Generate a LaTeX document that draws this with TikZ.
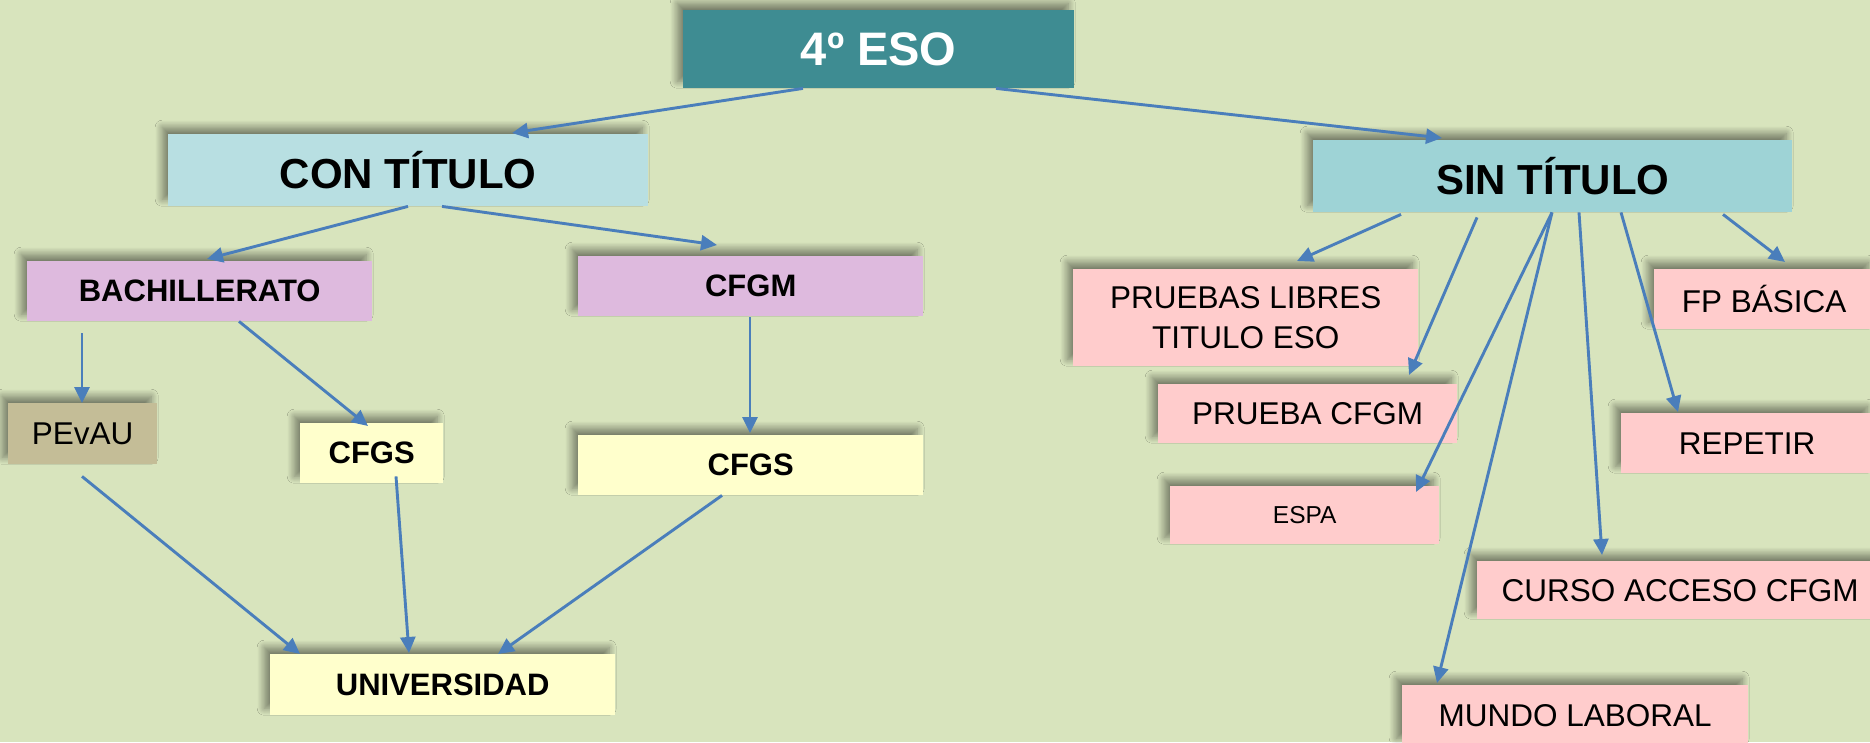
\documentclass[tikz,border=0pt]{standalone}
\usepackage{fontspec}
\setmainfont{Liberation Sans}
\usetikzlibrary{arrows.meta,calc,shadows.blur}
\definecolor{bgc}{RGB}{216,228,189}
\definecolor{tealc}{RGB}{62,140,146}
\definecolor{conc}{RGB}{184,223,226}
\definecolor{sinc}{RGB}{158,211,214}
\definecolor{lilac}{RGB}{222,186,222}
\definecolor{yel}{RGB}{255,255,204}
\definecolor{pinkc}{RGB}{255,204,204}
\definecolor{khaki}{RGB}{196,189,151}
\definecolor{arrc}{RGB}{74,126,187}
\tikzset{
  boxnode/.style={rectangle, inner sep=0pt, anchor=north west, align=center,
    blur shadow={shadow xshift=-6pt, shadow yshift=7pt, shadow blur radius=7pt, shadow opacity=45, shadow blur steps=12}},
  bigb/.style={font=\bfseries\fontsize{42}{50}\selectfont},
  midb/.style={font=\bfseries\fontsize{31}{40}\selectfont},
  regt/.style={font=\fontsize{31.5}{40}\selectfont},
  arr/.style={draw=arrc, line width=2.9pt, -{Triangle[length=16pt,width=15pt]}}
}
\begin{document}
\begin{tikzpicture}[x=1pt,y=-1pt]
\fill[bgc] (0,0) rectangle (1870,742);
\useasboundingbox (0,0) rectangle (1870,742);
% nodes
\node[boxnode, fill=tealc, text=white, minimum width=391, minimum height=78,
  font=\bfseries\fontsize{47}{56}\selectfont] (eso) at (683,10) {4º ESO};
\node[boxnode, fill=conc, bigb, minimum width=480, minimum height=72] (con) at (168,134) {CON TÍTULO};
\node[boxnode, fill=sinc, bigb, minimum width=479, minimum height=72] (sin) at (1313,140) {SIN TÍTULO};
\node[boxnode, fill=lilac, midb, minimum width=345, minimum height=60] (bach) at (27,261) {BACHILLERATO};
\node[boxnode, fill=lilac, midb, minimum width=345, minimum height=60] (cfgm) at (578,256) {CFGM};
\node[boxnode, fill=khaki, regt, minimum width=149, minimum height=61] (pev) at (8,403) {PEvAU};
\node[boxnode, fill=yel, midb, minimum width=143, minimum height=60] (cfgsA) at (300,423) {CFGS};
\node[boxnode, fill=yel, midb, minimum width=345, minimum height=60] (cfgsB) at (578,435) {CFGS};
\node[boxnode, fill=yel, midb, minimum width=345, minimum height=61] (univ) at (270,654) {UNIVERSIDAD};
\node[boxnode, fill=pinkc, regt, minimum width=345, minimum height=97] (plib) at (1073,269) {PRUEBAS LIBRES\\TITULO ESO};
\node[boxnode, fill=pinkc, regt, minimum width=299, minimum height=59] (pcfgm) at (1158,384) {PRUEBA CFGM};
\node[boxnode, fill=pinkc, regt, minimum width=220, minimum height=60] (fpb) at (1654,269) {FP BÁSICA};
\node[boxnode, fill=pinkc, regt, minimum width=252, minimum height=60] (rep) at (1621,413) {REPETIR};
\node[boxnode, fill=pinkc, font=\fontsize{24.5}{30}\selectfont, minimum width=269, minimum height=58] (espa) at (1170,486) {ESPA};
\node[boxnode, fill=pinkc, regt, minimum width=406, minimum height=58] (curso) at (1477,561) {CURSO ACCESO CFGM};
\node[boxnode, fill=pinkc, regt, minimum width=346, minimum height=60] (mundo) at (1402,685) {MUNDO LABORAL};
% connectors
\draw[arr] ($(eso.south west)+(120,0)$) -- ($(con.north west)+(344,-1)$);
\draw[arr] ($(eso.south west)+(313,0)$) -- ($(sin.north west)+(129,-2)$);
\draw[arr] ($(con.south west)+(240,0)$) -- ($(bach.north west)+(180,-2)$);
\draw[arr] ($(con.south west)+(274,0)$) -- ($(cfgm.north west)+(139,-11)$);
\draw[arr] ($(bach.south west)+(55,12)$) -- ($(pev.north west)+(74,0)$);
\draw[arr] ($(bach.south west)+(212,0)$) -- ($(cfgsA.north west)+(68,3)$);
\draw[arr] ($(cfgm.south west)+(172,1)$) -- ($(cfgsB.north west)+(172,-2)$);
\draw[arr] ($(pev.south west)+(74,12)$) -- ($(univ.north west)+(30,0)$);
\draw[arr] ($(cfgsA.south west)+(96,-7)$) -- ($(univ.north west)+(139,-1)$);
\draw[arr] ($(cfgsB.south west)+(144,0)$) -- ($(univ.north west)+(228,0)$);
\draw[arr] ($(sin.south west)+(88,2)$) -- ($(plib.north west)+(224,-8)$);
\draw[arr] ($(sin.south west)+(164,5)$) -- ($(pcfgm.north west)+(251,-9)$);
\draw[arr] ($(sin.south west)+(239,0)$) -- ($(espa.north west)+(246,6)$);
\draw[arr] ($(sin.south west)+(239,0)$) -- ($(mundo.north west)+(35,-2)$);
\draw[arr] ($(sin.south west)+(266,0)$) -- ($(curso.north west)+(125,-6)$);
\draw[arr] ($(sin.south west)+(308,0)$) -- ($(rep.north west)+(57,-1)$);
\draw[arr] ($(sin.south west)+(410,2)$) -- ($(fpb.north west)+(131,-7)$);
\end{tikzpicture}
\end{document}
